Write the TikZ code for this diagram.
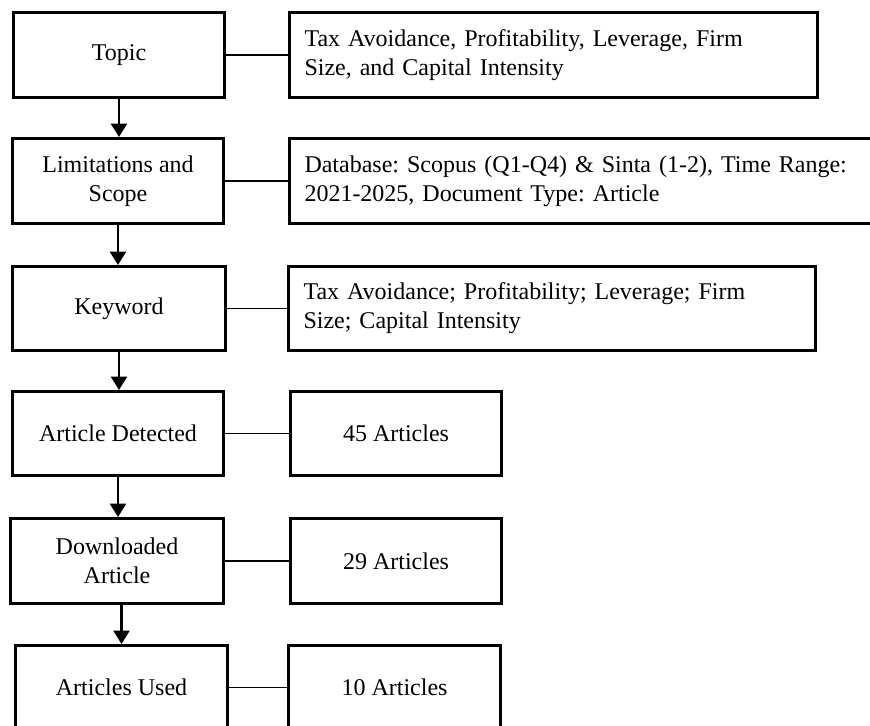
\documentclass[tikz,border=0pt]{standalone}
\usepackage{fontspec}
\setmainfont{Liberation Serif}
\usetikzlibrary{arrows.meta}
\frenchspacing
\begin{document}
\begin{tikzpicture}[x=0.75pt,y=-0.75pt,
  box/.style={draw,line width=2.25pt,inner sep=0pt,anchor=north west,
    font=\fontsize{18}{21.75}\selectfont\frenchspacing,align=center},
  wide/.style={draw,line width=2.25pt,inner sep=0pt,anchor=north west,
    font=\fontsize{18}{21.75}\selectfont\frenchspacing,align=left,text width=#1},
  conn/.style={line width=1pt},
  flow/.style={line width=1.6pt,-{Triangle[length=10pt,width=12pt]}}]
\useasboundingbox (0,0) rectangle (870,725);
% left column
\node[box,minimum width=158.25pt,minimum height=63.75pt] (topic) at (12,11) {Topic};
\node[box,minimum width=158.25pt,minimum height=63.75pt] (lim) at (11,137) {Limitations and\\Scope};
\node[box,minimum width=159.75pt,minimum height=63pt] (key) at (11,265) {Keyword};
\node[box,minimum width=158.25pt,minimum height=63pt] (det) at (11,390) {Article Detected};
\node[box,minimum width=159.75pt,minimum height=63.75pt] (down) at (9,517) {Downloaded\\Article};
\node[box,minimum width=159pt,minimum height=63pt] (used) at (14,644) {Articles Used};
% right column
\node[wide=373.5pt,minimum width=396pt,minimum height=63.75pt] (r1) at (288,11) {Tax Avoidance, Profitability, Leverage, Firm\\Size, and Capital Intensity};
\node[wide=421.5pt,minimum width=444pt,minimum height=63.75pt] (r2) at (288,137) {Database: Scopus (Q1-Q4) \& Sinta (1-2), Time Range:\\2021-2025, Document Type: Article};
\node[wide=372.75pt,minimum width=395.25pt,minimum height=63pt] (r3) at (287,265) {Tax Avoidance; Profitability; Leverage; Firm\\Size; Capital Intensity};
\node[box,minimum width=158.25pt,minimum height=63pt] (r4) at (289,390) {45 Articles};
\node[box,minimum width=158.25pt,minimum height=63.75pt] (r5) at (289,517) {29 Articles};
\node[box,minimum width=159pt,minimum height=63pt] (r6) at (287,644) {10 Articles};
% connectors
\draw[conn] (topic) -- (r1);
\draw[conn] (lim) -- (r2);
\draw[conn] (key) -- (r3);
\draw[conn] (det) -- (r4);
\draw[conn] (down) -- (r5);
\draw[conn] (used) -- (r6);
% flow arrows
\draw[flow] (topic.south) -- (topic.south |- lim.north);
\draw[flow] (lim.south) -- (lim.south |- key.north);
\draw[flow] (key.south) -- (key.south |- det.north);
\draw[flow] (det.south) -- (det.south |- down.north);
\draw[flow] (used.north |- down.south) -- (used.north);
\end{tikzpicture}
\end{document}
